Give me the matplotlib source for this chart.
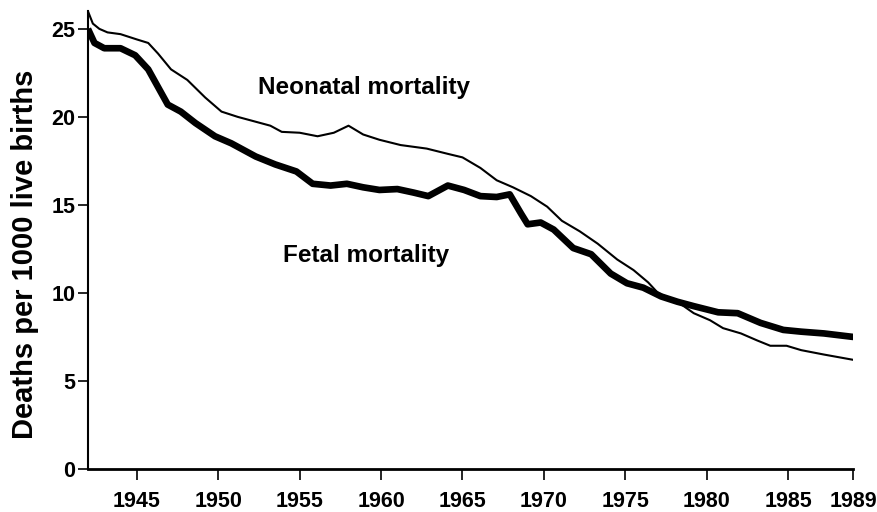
import matplotlib
matplotlib.use("Agg")
import matplotlib.pyplot as plt

# 新生児死亡率（細線）
neo_year = [1942.0, 1942.3, 1942.7, 1943.2, 1944.0, 1945.0, 1945.7, 1946.3, 1947.1, 1948.1, 1949.2,
            1950.2, 1951.2, 1952.4, 1953.2, 1953.9, 1955.0, 1956.1, 1957.1, 1958.0, 1958.9,
            1959.9, 1961.2, 1962.8, 1964.1, 1965.0, 1966.1, 1967.1, 1968.1, 1969.2, 1970.2,
            1971.1, 1972.2, 1973.3, 1974.5, 1975.5, 1976.4, 1977.0, 1978.2, 1979.2, 1980.2,
            1981.0, 1982.1, 1983.1, 1983.9, 1984.9, 1985.8, 1987.2, 1989.0]
neo_rate = [26.0, 25.3, 25.0, 24.8, 24.7, 24.4, 24.2, 23.6, 22.7, 22.1, 21.1,
            20.3, 20.0, 19.7, 19.5, 19.15, 19.1, 18.9, 19.1, 19.5, 19.0,
            18.7, 18.4, 18.2, 17.9, 17.7, 17.1, 16.4, 16.0, 15.5, 14.9,
            14.1, 13.5, 12.8, 11.9, 11.3, 10.6, 10.0, 9.5, 8.85, 8.45,
            8.0, 7.7, 7.3, 7.0, 7.0, 6.75, 6.5, 6.2]

# 胎児死亡率（太線）
fet_year = [1942.0, 1942.4, 1943.0, 1944.0, 1944.9, 1945.7, 1946.3, 1946.9, 1947.7, 1948.6,
            1949.8, 1950.8, 1952.3, 1953.5, 1954.8, 1955.8, 1956.9, 1957.9, 1958.9, 1959.9,
            1961.0, 1962.0, 1962.9, 1964.1, 1965.1, 1966.1, 1967.1, 1967.9, 1968.6, 1969.0,
            1969.8, 1970.6, 1971.8, 1972.9, 1974.1, 1975.1, 1976.1, 1977.2, 1978.2, 1979.2,
            1980.7, 1981.9, 1983.3, 1984.7, 1985.8, 1987.2, 1989.0]
fet_rate = [25.0, 24.2, 23.9, 23.9, 23.5, 22.7, 21.7, 20.7, 20.3, 19.65,
            18.9, 18.5, 17.75, 17.3, 16.9, 16.2, 16.1, 16.2, 16.0, 15.85,
            15.9, 15.7, 15.5, 16.1, 15.85, 15.5, 15.45, 15.6, 14.5, 13.9,
            14.0, 13.6, 12.55, 12.2, 11.1, 10.55, 10.3, 9.8, 9.5, 9.25,
            8.9, 8.85, 8.3, 7.9, 7.8, 7.7, 7.5]

x_ticks = [1945, 1950, 1955, 1960, 1965, 1970, 1975, 1980, 1985, 1989]
y_ticks = [0, 5, 10, 15, 20, 25]

plt.rcParams["font.family"] = ["Liberation Sans", "DejaVu Sans"]
plt.rcParams["font.weight"] = "bold"

fig = plt.figure(figsize=(8.77, 5.12), dpi=100)
ax = fig.add_axes([0.1003, 0.084, 0.8727, 0.894])

ax.plot(neo_year, neo_rate, color="black", lw=1.5, solid_joinstyle="round", solid_capstyle="butt")
ax.plot(fet_year, fet_rate, color="black", lw=4.8, solid_joinstyle="round", solid_capstyle="butt")

ax.set_xlim(1942, 1989)
ax.set_ylim(0, 26)
ax.set_xticks(x_ticks)
ax.set_yticks(y_ticks)
ax.tick_params(axis="x", direction="out", length=8, width=1.2, pad=8, labelsize=15.5)
ax.tick_params(axis="y", direction="out", length=7, width=1.2, pad=2, labelsize=15.5)
for lab in ax.get_xticklabels() + ax.get_yticklabels():
    lab.set_fontweight("bold")

for s in ["top", "right"]:
    ax.spines[s].set_visible(False)
ax.spines["left"].set_linewidth(1.5)
ax.spines["bottom"].set_linewidth(2)

ax.set_ylabel("Deaths per 1000 live births", fontsize=21, fontweight="bold")
ax.yaxis.set_label_coords(-0.064, 0.47)

ax.text(1952.45, 21.3, "Neonatal mortality", fontsize=17.5, fontweight="bold", va="baseline", ha="left")
ax.text(1954.0, 11.76, "Fetal mortality", fontsize=17.5, fontweight="bold", va="baseline", ha="left")

fig.savefig("out.png", dpi=100)
